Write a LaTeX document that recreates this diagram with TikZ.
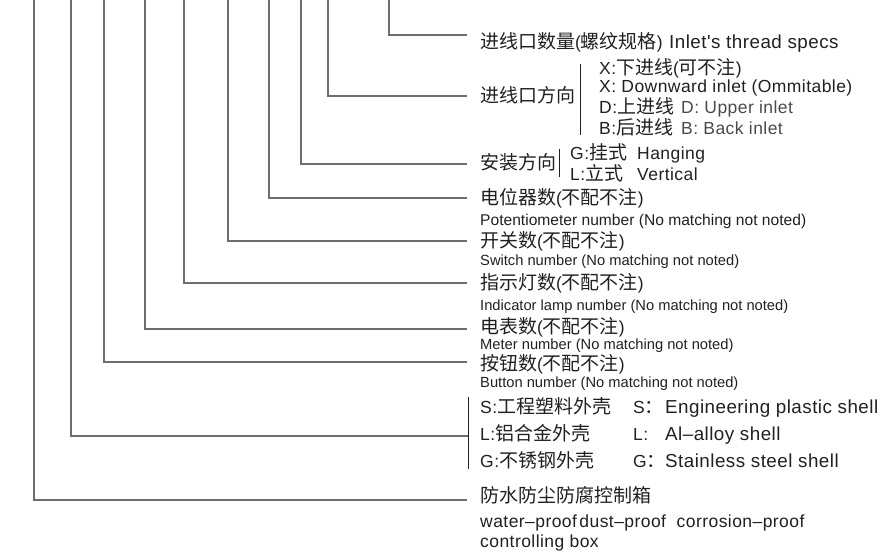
\documentclass[tikz,border=0pt]{standalone}
\usepackage{fontspec}
\setmainfont{Liberation Sans}[LetterSpace=2.5, Ligatures=TeXOff]
\newfontfamily\smallfont{Liberation Sans}[Ligatures=TeXOff]
\newfontfamily\cjk[Scale=1.085]{Noto Sans CJK SC}
\newcommand\zh[1]{{\cjk #1}}
\definecolor{txt}{HTML}{231F20}
\definecolor{txtgray}{HTML}{4A4A4A}
\definecolor{linegray}{HTML}{6E6E6E}
\tikzset{
  lbl/.style={anchor=base west, inner sep=0pt, text=txt, font=\fontsize{17.5}{20}\selectfont},
  sm/.style={lbl, font=\smallfont\fontsize{14.7}{17}\selectfont},
  big/.style={lbl, font=\fontsize{18.8}{20}\selectfont},
  conn/.style={draw=linegray, line width=1.1pt},
  barline/.style={draw=txt, line width=1pt}
}
\begin{document}
\begin{tikzpicture}[x=1pt,y=-1pt]
\useasboundingbox (0,0) rectangle (893,554);
% top ends of the leader lines
\coordinate (t1) at (34,0);
\coordinate (t2) at (71,0);
\coordinate (t3) at (104,0);
\coordinate (t4) at (145,0);
\coordinate (t5) at (184,0);
\coordinate (t6) at (228,0);
\coordinate (t7) at (269,0);
\coordinate (t8) at (301,0);
\coordinate (t9) at (328,0);
\coordinate (t10) at (389,0);
% right ends
\coordinate (e1) at (467,500);
\coordinate (e2) at (468,436);
\coordinate (e3) at (467,362);
\coordinate (e4) at (467,329);
\coordinate (e5) at (467,283);
\coordinate (e6) at (467,241);
\coordinate (e7) at (467,198);
\coordinate (e8) at (467,164);
\coordinate (e9) at (467,96);
\coordinate (e10) at (467,35);
\foreach \i in {1,...,10} { \draw[conn] (t\i) |- (e\i); }

% 1 inlet thread
\node[lbl] (n10) at (480,48) {\zh{进线口数量}(\zh{螺纹规格})};
\node[big] (n10b) at (669,48) {Inlet's thread specs};
% 2 inlet direction
\node[lbl] (n9) at (480,102) {\zh{进线口方向}};
\coordinate (b9a) at (580,64); \coordinate (b9b) at (580,135);
\draw[barline] (b9a) -- (b9b);
\node[lbl] (n9a) at (599,74) {X:\zh{下进线}(\zh{可不注})};
\node[lbl] (n9b) at (599,92) {X: Downward inlet (Ommitable)};
\node[lbl] (n9c) at (599,113) {D:\zh{上进线}};
\node[lbl, text=txtgray] (n9c2) at (681,113) {D: Upper inlet};
\node[lbl] (n9d) at (599,134) {B:\zh{后进线}};
\node[lbl, text=txtgray] (n9d2) at (681,134) {B: Back inlet};
% 3 mounting
\node[lbl] (n8) at (480,169) {\zh{安装方向}};
\coordinate (b8a) at (559,149); \coordinate (b8b) at (559,177);
\draw[barline] (b8a) -- (b8b);
\node[lbl] (n8a) at (570,159) {G:\zh{挂式}};
\node[lbl] (n8a2) at (637,159) {Hanging};
\node[lbl] (n8b) at (570,180) {L:\zh{立式}};
\node[lbl] (n8b2) at (637,180) {Vertical};
% 4 potentiometer
\node[lbl] (n7) at (480,204) {\zh{电位器数}(\zh{不配不注})};
\node[sm, font=\smallfont\fontsize{15.6}{17}\selectfont] (n7b) at (480,225) {Potentiometer number (No matching not noted)};
% 5 switch
\node[lbl] (n6) at (480,247) {\zh{开关数}(\zh{不配不注})};
\node[sm] (n6b) at (480,265) {Switch number (No matching not noted)};
% 6 indicator
\node[lbl] (n5) at (480,289) {\zh{指示灯数}(\zh{不配不注})};
\node[sm] (n5b) at (480,310) {Indicator lamp number (No matching not noted)};
% 7 meter
\node[lbl] (n4) at (480,333) {\zh{电表数}(\zh{不配不注})};
\node[sm] (n4b) at (480,349) {Meter number (No matching not noted)};
% 8 button
\node[lbl] (n3) at (480,370) {\zh{按钮数}(\zh{不配不注})};
\node[sm] (n3b) at (480,387) {Button number (No matching not noted)};
% 9 shell
\coordinate (b2a) at (468,397); \coordinate (b2b) at (468,469);
\draw[barline] (b2a) -- (b2b);
\node[lbl] (n2a) at (480,413) {S:\zh{工程塑料外壳}};
\node[lbl] (n2b) at (480,440) {L:\zh{铝合金外壳}};
\node[lbl] (n2c) at (480,467) {G:\zh{不锈钢外壳}};
\node[lbl] (n2a1) at (633,413) {S\zh{：}};
\node[lbl] (n2b1) at (633,440) {L:};
\node[lbl] (n2c1) at (633,467) {G\zh{：}};
\node[big] (n2a2) at (665,413) {Engineering plastic shell};
\node[big] (n2b2) at (665,440) {Al–alloy shell};
\node[big] (n2c2) at (665,467) {Stainless steel shell};
% 10 box
\node[lbl] (n1) at (480,502) {\zh{防水防尘防腐控制箱}};
\node[lbl] (n1b) at (480,527) {water–proof\kern2.5pt dust–proof\ \ corrosion–proof};
\node[lbl] (n1c) at (480,547) {controlling box};
\end{tikzpicture}
\end{document}
